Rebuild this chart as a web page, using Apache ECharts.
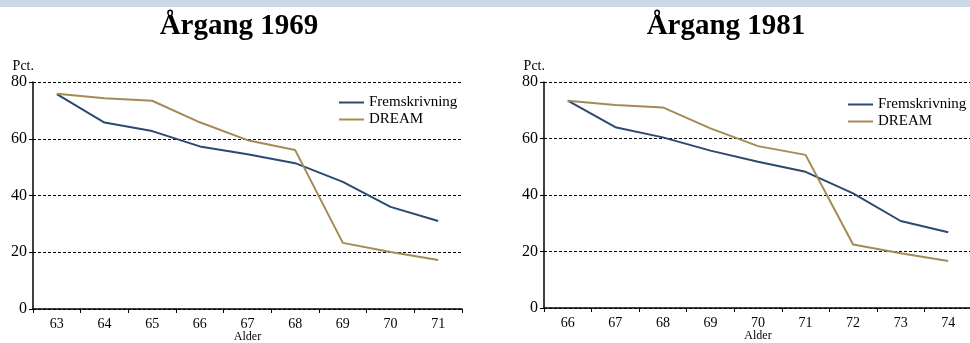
<!DOCTYPE html>
<html>
<head>
<meta charset="utf-8">
<script src="https://cdn.jsdelivr.net/npm/echarts@6/dist/echarts.min.js"></script>
<style>html,body{margin:0;padding:0;background:#fff}#c{width:970px;height:343px}</style>
</head>
<body>
<div id="c"></div>
<script>
var ages1969 = ['63','64','65','66','67','68','69','70','71'];
var frem1969 = [75.7, 65.7, 62.7, 57.3, 54.5, 51.4, 44.8, 36.0, 31.0];
var dream1969 = [75.9, 74.3, 73.4, 65.8, 59.5, 56.0, 23.3, 20.1, 17.3];
var ages1981 = ['66','67','68','69','70','71','72','73','74'];
var frem1981 = [73.4, 64.0, 60.4, 55.7, 51.8, 48.2, 40.6, 30.8, 26.8];
var dream1981 = [73.4, 71.9, 71.0, 63.6, 57.3, 54.2, 22.5, 19.4, 16.6];
var yTicks = [0, 20, 40, 60, 80];

var SERIF = '"Liberation Serif","DejaVu Serif",serif';
var BLUE = '#2b4a6f', GOLD = '#a48a55';

function xAx(cats, gi) {
  return {
    type: 'category', gridIndex: gi, data: cats, boundaryGap: true,
    name: 'Alder', nameLocation: 'middle', nameGap: 22, nameMoveOverlap: false,
    nameTextStyle: {fontFamily: SERIF, fontSize: 12, color: '#000'},
    axisLine: {show: true, lineStyle: {color: '#000', width: 1.5}},
    axisTick: {show: true, length: 4, inside: false, alignWithLabel: false, lineStyle: {color: '#000'}},
    axisLabel: {fontFamily: SERIF, fontSize: 14, color: '#000', margin: 8},
    splitLine: {show: false}
  };
}
function yAx(gi) {
  return {
    type: 'value', gridIndex: gi, min: 0, max: 80, interval: 20,
    name: 'Pct.', nameLocation: 'end', nameGap: 9,
    nameTextStyle: {fontFamily: SERIF, fontSize: 14, color: '#000', align: 'right', padding: [0, -1, 0, 0]},
    axisLine: {show: true, lineStyle: {color: '#000', width: 1.5}},
    axisTick: {show: true, length: 4, lineStyle: {color: '#000'}},
    axisLabel: {fontFamily: SERIF, fontSize: 16, color: '#000', margin: 6,
      formatter: function (v) { return yTicks.indexOf(v) >= 0 ? String(v) : ''; }},
    splitLine: {show: true, lineStyle: {color: '#000', type: [3, 2], width: 1}}
  };
}
function legendAt(left, top, gi) {
  return {
    orient: 'vertical', left: left, top: top, padding: 0, itemWidth: 25, itemHeight: 2, itemGap: 2,
    icon: 'rect', data: [
      {name: 'Fremskrivning' + gi, itemStyle: {color: BLUE}},
      {name: 'DREAM' + gi, itemStyle: {color: GOLD}}
    ],
    formatter: function (n) { return n.replace(/\d+$/, ''); },
    textStyle: {fontFamily: SERIF, fontSize: 15, color: '#000'}
  };
}
function line(name, data, gi, color) {
  return {
    type: 'line', name: name, xAxisIndex: gi, yAxisIndex: gi, data: data,
    symbol: 'none', smooth: false, lineStyle: {color: color, width: 2}, itemStyle: {color: color},
    silent: true, animation: false
  };
}

var chart = echarts.init(document.getElementById('c'), null, {renderer: 'canvas'});
chart.setOption({
  animation: false,
  backgroundColor: '#fff',
  graphic: [{type: 'rect', shape: {x: 0, y: 0, width: 970, height: 7}, style: {fill: '#cbd8e6'}}],
  title: [
    {text: 'Årgang 1969', left: 234, top: 7, textAlign: 'center',
      textStyle: {fontFamily: SERIF, fontSize: 29, fontWeight: 'bold', color: '#000'}},
    {text: 'Årgang 1981', left: 721, top: 7, textAlign: 'center',
      textStyle: {fontFamily: SERIF, fontSize: 29, fontWeight: 'bold', color: '#000'}}
  ],
  legend: [legendAt(339, 95, 0), legendAt(848, 97, 1)],
  grid: [
    {left: 33, top: 82, width: 429, height: 227, containLabel: false, outerBoundsMode: 'none'},
    {left: 544, top: 82, width: 428, height: 226, containLabel: false, outerBoundsMode: 'none'}
  ],
  xAxis: [xAx(ages1969, 0), xAx(ages1981, 1)],
  yAxis: [yAx(0), yAx(1)],
  series: [
    line('Fremskrivning0', frem1969, 0, BLUE),
    line('DREAM0', dream1969, 0, GOLD),
    line('Fremskrivning1', frem1981, 1, BLUE),
    line('DREAM1', dream1981, 1, GOLD)
  ]
});
</script>
</body>
</html>
